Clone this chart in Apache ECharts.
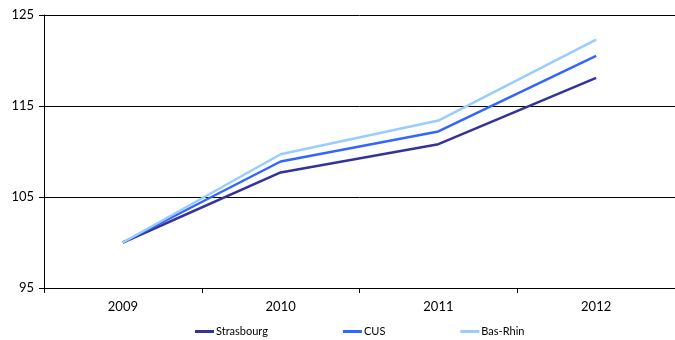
<!DOCTYPE html>
<html><head><meta charset="utf-8">
<script src="https://cdn.jsdelivr.net/npm/echarts@6/dist/echarts.min.js"></script>
<style>html,body{margin:0;padding:0;background:#fff}#c{width:675px;height:340px}</style>
</head><body><div id="c"></div>
<script>
var years = ['2009', '2010', '2011', '2012'];
var strasbourg = [100, 107.7, 110.8, 118.1];
var cus = [100, 108.9, 112.2, 120.5];
var basRhin = [100, 109.7, 113.4, 122.3];
var yTicks = [95, 105, 115, 125];

var font = 'Lato, "Liberation Sans", sans-serif';
var chart = echarts.init(document.getElementById('c'), null, {renderer: 'canvas'});
function s(name, data, color) {
  return {name: name, type: 'line', data: data, symbol: 'none', smooth: false,
    lineStyle: {color: color, width: 2.5}, itemStyle: {color: color}};
}
chart.setOption({
  animation: false,
  backgroundColor: '#fff',
  grid: {left: 44, right: 0, top: 15, bottom: 52, containLabel: false},
  legend: {
    top: 326, left: 195, itemGap: 75, itemWidth: 19, itemHeight: 3, icon: 'rect', padding: 0,
    textStyle: {fontFamily: font, fontSize: 11, color: '#000', padding: [0,0,0,-3]},
    data: ['Strasbourg', 'CUS', 'Bas-Rhin']
  },
  xAxis: {
    type: 'category', data: years, boundaryGap: true,
    axisLine: {lineStyle: {color: '#000', width: 1}},
    axisTick: {show: true, length: 5, lineStyle: {color: '#000'}},
    axisLabel: {fontFamily: font, fontSize: 13, color: '#000', margin: 12}
  },
  yAxis: {
    type: 'value', min: yTicks[0], max: yTicks[yTicks.length - 1], interval: 10,
    axisLine: {show: true, lineStyle: {color: '#000', width: 1}},
    axisTick: {show: true, length: 5, lineStyle: {color: '#000'}},
    axisLabel: {fontFamily: font, fontSize: 13, color: '#000', margin: 10},
    splitLine: {show: true, lineStyle: {color: '#000', width: 1}}
  },
  series: [
    s('Strasbourg', strasbourg, '#333399'),
    s('CUS', cus, '#3366FF'),
    s('Bas-Rhin', basRhin, '#99CCFF')
  ]
});
</script></body></html>
